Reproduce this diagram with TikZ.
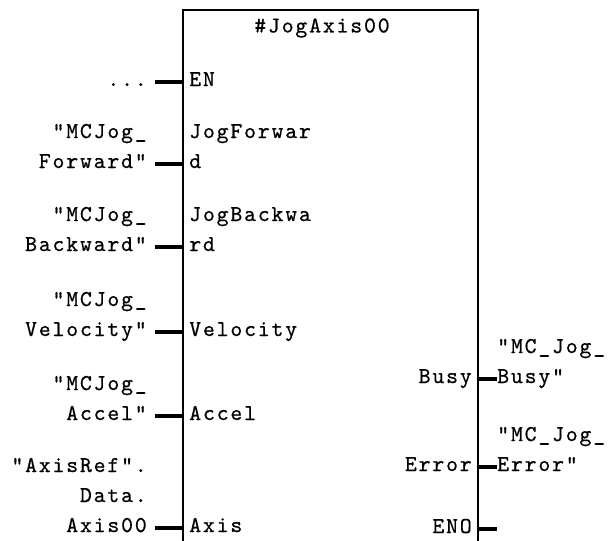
\documentclass[tikz,border=0pt]{standalone}
\usepackage{fontspec}
\setmonofont{lmmono10-regular.otf}[LetterSpace=8, FakeBold=0.6]
\usetikzlibrary{positioning}

\begin{document}
\begin{tikzpicture}[
x=0.75pt, y=-0.75pt,
    block/.style={rectangle, draw, line width=1.2pt, minimum width=221.25pt, minimum height=412.5pt, inner sep=0pt},
    pinlabel/.style={inner sep=0pt, font=\ttfamily\fontsize{17}{22.5}\selectfont},
    inlabel/.style={pinlabel, anchor=base west, align=left},
    outlabel/.style={pinlabel, anchor=base east, align=right},
    stub/.style={draw, line width=2.4pt}
]
    \useasboundingbox (0,0) rectangle (609,540);
    \clip (0,0) rectangle (609,540);

    % Function block
    \node[block] (fb) at (330.5,285) {};
    \node[pinlabel] (title) at (322,28) {\#JogAxis00};

    % Pins - inputs
    \node[inlabel] (en) at (189,86) {EN};
    \node[inlabel] (fwd) at (189,168) {JogForwar\\d};
    \node[inlabel] (bwd) at (189,251) {JogBackwa\\rd};
    \node[inlabel] (vel) at (189,336) {Velocity};
    \node[inlabel] (acc) at (189,420) {Accel};
    \node[inlabel] (axis) at (189,532) {Axis};

    % Pins - outputs
    \node[outlabel] (busy) at (472,383) {Busy};
    \node[outlabel] (err) at (472,471) {Error};
    \node[outlabel] (eno) at (472,533) {ENO};

    % Actual parameters
    \node[outlabel] (enval) at (147,86) {...};
    \node[outlabel] (fwdval) at (147,168) {"MCJog\_\\Forward"};
    \node[outlabel] (bwdval) at (147,251) {"MCJog\_\\Backward"};
    \node[outlabel] (velval) at (147,336) {"MCJog\_\\Velocity"};
    \node[outlabel] (accval) at (147,420) {"MCJog\_\\Accel"};
    \node[outlabel] (axisval) at (147,532) {"AxisRef".\\Data.\\Axis00};
    \node[inlabel] (busyval) at (497,383) {"MC\_Jog\_\\Busy"};
    \node[inlabel] (errval) at (497,471) {"MC\_Jog\_\\Error"};

    % Stub ends
    \coordinate (enend) at (155,82);
    \coordinate (fwdend) at (155,164);
    \coordinate (bwdend) at (155,247);
    \coordinate (velend) at (155,332);
    \coordinate (accend) at (155,416);
    \coordinate (axisend) at (155,528);
    \coordinate (busyend) at (497,379);
    \coordinate (errend) at (497,467);
    \coordinate (enoend) at (497,529);

    % Stubs
    \draw[stub] (enend) -- (enend -| fb.west);
    \draw[stub] (fwdend) -- (fwdend -| fb.west);
    \draw[stub] (bwdend) -- (bwdend -| fb.west);
    \draw[stub] (velend) -- (velend -| fb.west);
    \draw[stub] (accend) -- (accend -| fb.west);
    \draw[stub] (axisend) -- (axisend -| fb.west);
    \draw[stub] (busyend -| fb.east) -- (busyend);
    \draw[stub] (errend -| fb.east) -- (errend);
    \draw[stub] (enoend -| fb.east) -- (enoend);

\end{tikzpicture}
\end{document}
